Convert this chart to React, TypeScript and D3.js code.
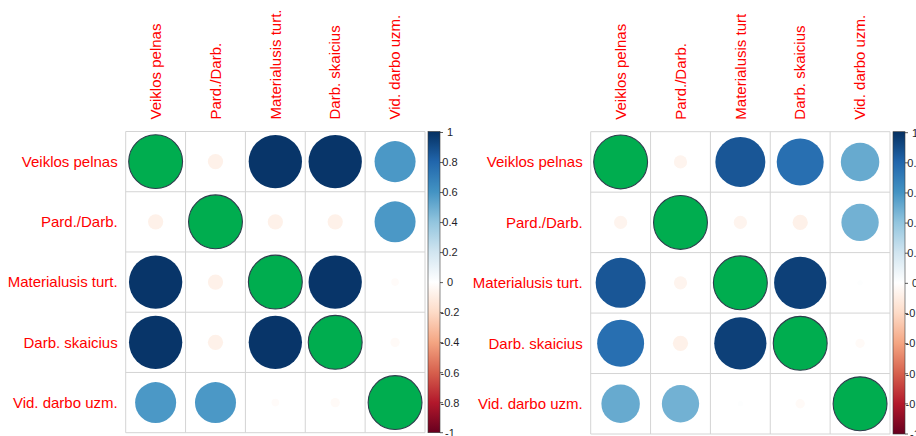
import React from "react";
import * as d3 from "d3";

const leftRowLabels = ["Veiklos pelnas", "Pard./Darb.", "Materialusis turt.", "Darb. skaicius", "Vid. darbo uzm."];
const leftColLabels = ["Veiklos pelnas", "Pard./Darb.", "Materialusis turt.", "Darb. skaicius", "Vid. darbo uzm."];
const rightRowLabels = ["Veiklos pelnas", "Pard./Darb.", "Materialusis turt.", "Darb. skaicius", "Vid. darbo uzm."];
const rightColLabels = ["Veiklos pelnas", "Pard./Darb.", "Materialusis turt", "Darb. skaicius", "Vid. darbo uzm."];

const leftCorr = [
  [1, -0.08, 0.98, 0.98, 0.58],
  [-0.08, 1, -0.08, -0.08, 0.58],
  [0.98, -0.08, 1, 0.98, -0.02],
  [0.98, -0.08, 0.98, 1, -0.03],
  [0.58, 0.58, -0.02, -0.03, 1],
];

const rightCorr = [
  [1, -0.06, 0.86, 0.76, 0.51],
  [-0.06, 1, -0.06, -0.08, 0.48],
  [0.86, -0.06, 1, 0.94, 0.01],
  [0.76, -0.08, 0.94, 1, -0.03],
  [0.51, 0.48, 0.01, -0.03, 1],
];

const legendTicks = [1, 0.8, 0.6, 0.4, 0.2, 0, -0.2, -0.4, -0.6, -0.8, -1];
const paletteStops = ["#67001F", "#B2182B", "#D6604D", "#F4A582", "#FDDBC7", "#FFFFFF", "#D1E5F0", "#92C5DE", "#4393C3", "#2166AC", "#053061"];

const colorScale = d3
  .scaleLinear<string>()
  .domain(d3.range(11).map((i) => -1 + i * 0.2))
  .range(paletteStops)
  .interpolate(d3.interpolateRgb);

const FONT = "'Liberation Sans', Arial, sans-serif";

type PanelProps = {
  id: string;
  x0: number;
  x1: number;
  y0: number;
  y1: number;
  rowLabels: string[];
  colLabels: string[];
  corr: number[][];
  barX: number;
};

function Panel({ id, x0, x1, y0, y1, rowLabels, colLabels, corr, barX }: PanelProps) {
  const n = rowLabels.length;
  const xs = d3.scaleBand<number>().domain(d3.range(n)).range([x0, x1]);
  const ys = d3.scaleBand<number>().domain(d3.range(n)).range([y0, y1]);
  const cw = xs.bandwidth();
  const ch = ys.bandwidth();
  const cell = Math.min(cw, ch);
  const rScale = (v: number) => 0.45 * cell * Math.sqrt(Math.abs(v));
  const legendY = d3.scaleLinear().domain([-1, 1]).range([y1, y0 + 1]);
  const barW = 12;
  const gradId = "grad-" + id;

  return (
    <g>
      <defs>
        <linearGradient id={gradId} x1="0" y1="1" x2="0" y2="0">
          {paletteStops.map((c, i) => (
            <stop key={i} offset={i / (paletteStops.length - 1)} stopColor={c} />
          ))}
        </linearGradient>
      </defs>
      {/* grid */}
      {d3.range(n + 1).map((i) => {
        const x = i < n ? xs(i)! : x1;
        return <line key={"v" + i} x1={x} x2={x} y1={y0} y2={y1} stroke="#D4D4D4" strokeWidth={1} />;
      })}
      {d3.range(n + 1).map((i) => {
        const y = i < n ? ys(i)! : y1;
        return <line key={"h" + i} x1={x0} x2={x1} y1={y} y2={y} stroke="#D4D4D4" strokeWidth={1} />;
      })}
      {/* circles */}
      {corr.map((row, i) =>
        row.map((v, j) => {
          const cx = xs(j)! + cw / 2;
          const cy = ys(i)! + ch / 2;
          const diag = i === j;
          return (
            <circle
              key={i + "-" + j}
              cx={cx}
              cy={cy}
              r={rScale(v)}
              fill={diag ? "#00AD4F" : colorScale(v)}
              stroke={diag ? "#2E3D4C" : "none"}
              strokeWidth={diag ? 1.1 : 0}
            />
          );
        })
      )}
      {/* row labels */}
      {rowLabels.map((l, i) => (
        <text
          key={"r" + i}
          x={x0 - 8}
          y={ys(i)! + ch / 2}
          dy="0.35em"
          textAnchor="end"
          fill="#FF0000"
          fontSize={15}
          fontFamily={FONT}
        >
          {l}
        </text>
      ))}
      {/* column labels */}
      {colLabels.map((l, j) => (
        <text
          key={"c" + j}
          transform={`translate(${xs(j)! + cw / 2},${y0 - 12}) rotate(-90)`}
          dy="0.35em"
          textAnchor="start"
          fill="#FF0000"
          fontSize={15}
          fontFamily={FONT}
        >
          {l}
        </text>
      ))}
      {/* color legend */}
      <rect x={barX} y={y0} width={barW} height={y1 - y0} fill={`url(#${gradId})`} stroke="#3a3a3a" strokeWidth={0.6} />
      {legendTicks.map((t) => (
        <g key={"t" + t}>
          <line x1={barX + barW} x2={barX + barW + 3} y1={legendY(t)} y2={legendY(t)} stroke="#333" strokeWidth={0.8} />
          <text
            x={barX + barW + 10}
            y={legendY(t)}
            dy="0.35em"
            textAnchor="middle"
            fill="#1E1E2A"
            fontSize={11}
            fontFamily={FONT}
          >
            {String(t)}
          </text>
        </g>
      ))}
    </g>
  );
}

export default function App() {
  return (
    <svg
      width={916}
      height={436}
      style={{ position: "absolute", left: 0, top: 0, background: "#FFFFFF", overflow: "hidden" }}
    >
      <rect x={0} y={0} width={916} height={436} fill="#FFFFFF" />
      <Panel
        id="left"
        x0={125.7}
        x1={425}
        y0={131.5}
        y1={432.7}
        rowLabels={leftRowLabels}
        colLabels={leftColLabels}
        corr={leftCorr}
        barX={428}
      />
      <Panel
        id="right"
        x0={590.7}
        x1={890}
        y0={131.7}
        y1={434}
        rowLabels={rightRowLabels}
        colLabels={rightColLabels}
        corr={rightCorr}
        barX={893}
      />
    </svg>
  );
}
